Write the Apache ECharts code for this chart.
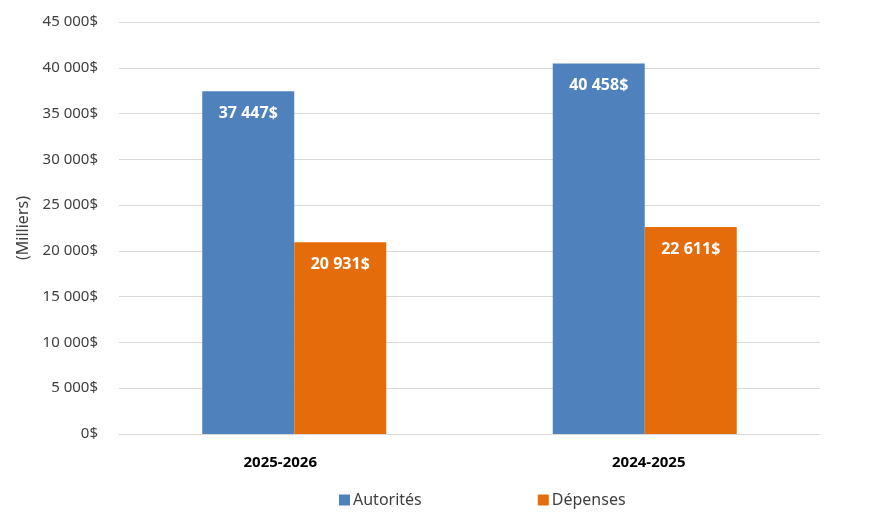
<!DOCTYPE html>
<html><head><meta charset="utf-8">
<script src="https://cdn.jsdelivr.net/npm/echarts@6/dist/echarts.min.js"></script>
<style>html,body{margin:0;padding:0;background:#fff}#c{width:889px;height:527px}</style>
</head><body><div id="c"></div>
<script>
const categories = ['2025-2026', '2024-2025'];
const autorites = [37447, 40458];
const depenses = [20931, 22611];
const seriesNames = ['Autorités', 'Dépenses'];

function fmt(v){ return String(Math.round(v)).replace(/\B(?=(\d{3})+(?!\d))/g, ' ') + '$'; }

const chart = echarts.init(document.getElementById('c'));
const font = 'Noto Sans, Open Sans, sans-serif';
const lbl = {show:true, position:'insideTop', distance:14, color:'#fff', fontWeight:'bold', fontSize:16, fontFamily:font, formatter:p=>fmt(p.value)};
chart.setOption({
  animation:false,
  grid:{left:119, right:69, top:22, bottom:93},
  legend:{data:seriesNames, left:334, top:487, itemWidth:11, itemHeight:11, itemGap:116, icon:'rect',
    textStyle:{color:'#404040', fontSize:16, fontFamily:font, padding:[0,0,0,-2]}},
  xAxis:{type:'category',
    data:[{value:categories[0], textStyle:{padding:[0,28,0,0]}}, {value:categories[1], textStyle:{padding:[0,0,0,8]}}],
    axisLine:{lineStyle:{color:'#d9d9d9'}}, axisTick:{show:false},
    axisLabel:{color:'#000', fontWeight:'bold', fontSize:15, fontFamily:font, margin:21}},
  yAxis:{type:'value', min:0, max:45000, interval:5000,
    name:'(Milliers)', nameLocation:'middle', nameGap:86, nameRotate:90,
    nameTextStyle:{color:'#404040', fontSize:16, fontFamily:font},
    splitLine:{lineStyle:{color:'#d9d9d9'}}, axisLine:{show:false}, axisTick:{show:false},
    axisLabel:{color:'#404040', fontSize:15, fontFamily:font, margin:21, formatter:fmt}},
  series:[
    {name:seriesNames[0], type:'bar', data:autorites, barWidth:92, barGap:'0%', itemStyle:{color:'#4f81bd'}, label:lbl},
    {name:seriesNames[1], type:'bar', data:depenses, barWidth:92, itemStyle:{color:'#e46c0a'}, label:lbl}
  ]
});
</script></body></html>
